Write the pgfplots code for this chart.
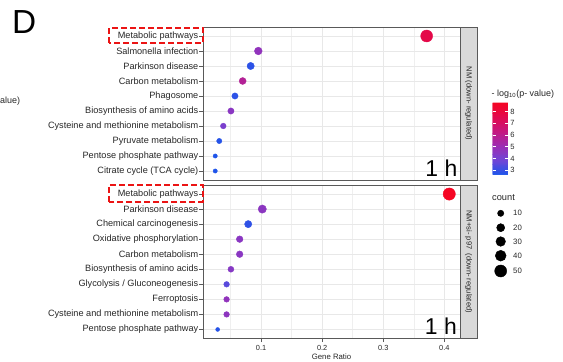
\documentclass[border=0pt]{standalone}
\usepackage{pgfplots}
\pgfplotsset{compat=1.18}
\usepackage{pgfplotstable}
\usepackage{fontspec}
\setmainfont{Liberation Sans}
\pgfkeys{/pgf/number format/assume math mode=true}

\definecolor{gridc}{gray}{0.91}
\definecolor{framec}{gray}{0.35}
\definecolor{stripc}{gray}{0.85}
\definecolor{txt}{gray}{0.15}
\definecolor{boxred}{RGB}{235,20,20}

\pgfplotstableread{
x y c p
0.371 1 50 7.7
0.0955 2 18 4.8
0.083 3 15.6 2.9
0.0699 4 14 5.8
0.0573 5 10.5 2.9
0.0507 6 10.5 4.6
0.0382 7 7.8 4.2
0.0316 8 6.1 2.8
0.025 9 2.4 2.7
0.025 10 2.4 2.7
}\toptab

\pgfplotstableread{
x y c p
0.408 1 52.7 8.74
0.102 2 21.5 4.65
0.079 3 15.6 2.95
0.065 4 12.4 4.6
0.065 5 12.4 4.6
0.0507 6 9.1 4.5
0.0436 7 7.8 3.55
0.0436 8 7.8 4.8
0.0436 9 7.8 4.7
0.029 10 1.5 2.8
}\bottab

\pgfplotstableread{
x y c
10 213.3 10
10 227.7 20
10 241.5 30
10 255.7 40
10 271 50
}\legtab

\tikzset{leglab/.style={anchor=west, font=\fontsize{7.8}{8}\selectfont, text=txt, inner sep=0pt}}

\pgfplotsset{
  colormap={gg}{rgb255=(25,85,235) rgb255=(110,70,215) rgb255=(155,45,180) rgb255=(195,25,130) rgb255=(225,10,80) rgb255=(245,5,35)},
  panel/.style={
    scale only axis, width=257bp,
    xmin=0.005, xmax=0.4256, ymin=0.4, ymax=10.6, y dir=reverse,
    ytick={1,...,10}, xtick={0.1,0.2,0.3,0.4},
    minor xtick={0.05,0.15,0.25,0.35},
    grid=both,
    major grid style={gridc, line width=0.8bp},
    minor grid style={gridc!70, line width=0.5bp},
    axis line style={framec, line width=0.6bp},
    tick align=outside, ytick pos=left, xtick pos=bottom,
    major tick length=3.5bp, minor tick length=0pt,
    tick style={framec, line width=0.6bp},
    yticklabel style={font=\fontsize{9.2}{10}\selectfont, text=txt, inner xsep=1bp},
    xticklabel style={font=\fontsize{7.4}{8}\selectfont, text=txt},
    point meta min=2.63, point meta max=8.74, colormap name=gg,
    clip=false,
  },
  dots/.style={
    scatter, only marks, mark=*,
    scatter/use mapped color={draw=mapped color, fill=mapped color},
    point meta=\thisrow{p},
    visualization depends on={sqrt(3+0.66*\thisrow{c}) \as \rad},
    scatter/@pre marker code/.append style={/tikz/mark size=\rad},
  },
}

\begin{document}
\begin{tikzpicture}
\useasboundingbox (0,0) rectangle (563bp,362bp);

% top panel
\begin{axis}[panel, height=153bp, at={(203bp,182bp)}, anchor=south west,
  xticklabels={}, xtick style={draw=none},
  yticklabels={Metabolic pathways, Salmonella infection, Parkinson disease, Carbon metabolism, Phagosome, Biosynthesis of amino acids, Cysteine and methionine metabolism, Pyruvate metabolism, Pentose phosphate pathway, Citrate cycle (TCA cycle)},
  colorbar sampled,
  colorbar style={
    samples=80,
    at={(parent axis.right of north east)}, anchor=north west,
    xshift=23.7bp, yshift=-75.7bp,
    scale only axis, width=16bp, height=72bp,
    ytick={3,4,5,6,7,8},
    yticklabel pos=right,
    tick align=inside, ytick pos=both,
    major tick length=3.2bp,
    ytick style={draw=white, line width=0.6bp},
    axis line style={draw=none},
    yticklabel style={font=\fontsize{7.6}{8}\selectfont, text=txt, inner xsep=1.5bp},
  },
]
\addplot[dots] table[x=x, y=y] {\toptab};
\end{axis}

% bottom panel
\begin{axis}[panel, height=153.5bp, at={(203bp,23.5bp)}, anchor=south west,
  yticklabels={Metabolic pathways, Parkinson disease, Chemical carcinogenesis, Oxidative phosphorylation, Carbon metabolism, Biosynthesis of amino acids, Glycolysis / Gluconeogenesis, Ferroptosis, Cysteine and methionine metabolism, Pentose phosphate pathway},
  xticklabels={0.1,0.2,0.3,0.4},
]
\addplot[dots] table[x=x, y=y] {\bottab};
\end{axis}

% count legend
\begin{axis}[at={(490.7bp,82bp)}, anchor=south west, scale only axis,
  width=20bp, height=80bp, xmin=0, xmax=20, ymin=200, ymax=280, y dir=reverse,
  hide axis, clip=false]
\addplot[scatter, only marks, mark=*,
  scatter/use mapped color={draw=black, fill=black},
  point meta=\thisrow{c},
  visualization depends on={sqrt(3.5+0.66*\thisrow{c}) \as \rad},
  scatter/@pre marker code/.append style={/tikz/mark size=\rad}]
  table[x=x, y=y] {\legtab};
\node[anchor=west, font=\fontsize{9.3}{10}\selectfont, text=txt, inner sep=0pt] at (axis cs:1.3,198) {count};
\node[leglab] at (axis cs:22.3,213.3) {10};
\node[leglab] at (axis cs:22.3,227.7) {20};
\node[leglab] at (axis cs:22.3,241.5) {30};
\node[leglab] at (axis cs:22.3,255.7) {40};
\node[leglab] at (axis cs:22.3,271) {50};
\end{axis}

% strips
\draw[framec, line width=0.6bp, fill=stripc] (460bp,182bp) rectangle (477bp,335bp);
\draw[framec, line width=0.6bp, fill=stripc] (460bp,23.5bp) rectangle (477bp,177bp);
\node[rotate=-90, font=\fontsize{7.6}{8}\selectfont, text=txt] at (468.5bp,258.5bp) {NM (down- regulated)};
\node[rotate=-90, font=\fontsize{7.6}{8}\selectfont, text=txt] at (468.5bp,100.25bp) {NM+si- p97\ \ (down- regulated)};

% 1 h labels
\node[anchor=base east, inner sep=0pt, font=\fontsize{23}{24}\selectfont] at (457.5bp,185bp) {1 h};
\node[anchor=base east, inner sep=0pt, font=\fontsize{23}{24}\selectfont] at (457bp,28bp) {1 h};

% red dashed boxes
\draw[boxred, line width=1.8bp, dash pattern=on 6bp off 3bp] (109bp,319bp) rectangle (203bp,334bp);
\draw[boxred, line width=1.8bp, dash pattern=on 6bp off 3bp] (109bp,160.3bp) rectangle (203bp,177bp);

% colourbar title
\node[anchor=west, inner sep=0pt, font=\fontsize{9}{10}\selectfont, text=txt] at (491.5bp,268bp) {- log\textsubscript{10}(p- value)};

% x label
\node[font=\fontsize{7.8}{8}\selectfont, text=txt] at (331.5bp,5.3bp) {Gene Ratio};

% panel letter and cut-off text
\node[anchor=base west, inner sep=0pt, font=\fontsize{33.5}{34}\selectfont] at (12bp,328.7bp) {D};
\node[anchor=base west, inner sep=0pt, font=\fontsize{9}{10}\selectfont, text=txt] at (0bp,258.5bp) {alue)};
\end{tikzpicture}
\end{document}
